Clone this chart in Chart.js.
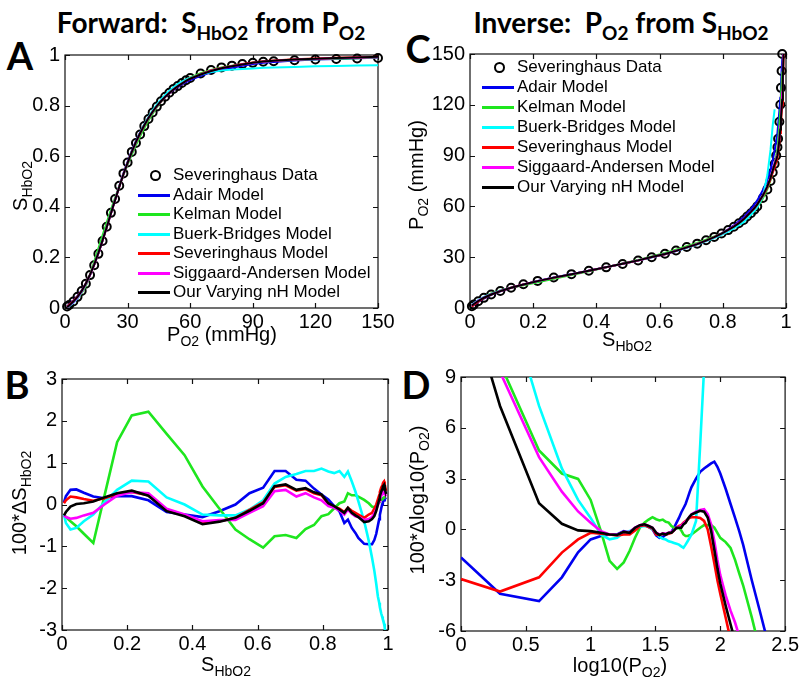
<!DOCTYPE html>
<html>
<head>
<script src="https://cdn.jsdelivr.net/npm/chart.js@4"></script>
<style>
    body { margin: 0; width: 800px; height: 686px; overflow: hidden; background: #fff; position: relative;
           font-family: "Liberation Sans", Arial, sans-serif; color: #000; }
    canvas { position: absolute; }
    .ttl { position: absolute; font-family: Lato, sans-serif; font-weight: bold; font-size: 28px; white-space: nowrap; transform: translate(-50%, -50%); }
    .ttl sub { font-size: 19px; line-height: 0; }
    .let { position: absolute; font-family: Lato, sans-serif; font-weight: bold; font-size: 38px; transform: translate(-50%, -50%); line-height: 1; }
    .ax { position: absolute; font-size: 20px; white-space: nowrap; line-height: 1; }
    .ax sub { font-size: 14px; line-height: 0; }
    .hor { transform: translate(-50%, -50%); }
    .rot { transform: translate(-50%, -50%) rotate(-90deg); }
    .row { position: absolute; height: 20px; line-height: 20px; font-size: 17px; white-space: nowrap; }
    .sw { position: absolute; height: 3px; width: 32px; }
    .dot { position: absolute; width: 7px; height: 7px; border: 2px solid #000; border-radius: 50%; }
</style>
</head>
<body>
<div class="ttl" style="left:211px; top:22px;">Forward:&nbsp; S<sub>HbO2</sub> from P<sub>O2</sub></div>
<div class="ttl" style="left:621px; top:22px;">Inverse:&nbsp; P<sub>O2</sub> from S<sub>HbO2</sub></div>
<div class="let" style="left:20px; top:55px;">A</div>
<div class="let" style="left:17px; top:384px;">B</div>
<div class="let" style="left:418px; top:48px;">C</div>
<div class="let" style="left:416px; top:384px;">D</div>

<canvas id="chartA" width="393" height="300" style="left:5px; top:38px;"></canvas>
<canvas id="chartB" width="406" height="298" style="left:2px; top:362px;"></canvas>
<canvas id="chartC" width="390" height="301" style="left:410px; top:37px;"></canvas>
<canvas id="chartD" width="400" height="301" style="left:401px; top:360px;"></canvas>

<div class="ax hor" style="left:222px; top:334px;">P<sub>O2</sub> (mmHg)</div>
<div class="ax rot" style="left:20px; top:186px;">S<sub>HbO2</sub></div>
<div class="ax hor" style="left:226px; top:664px;">S<sub>HbO2</sub></div>
<div class="ax rot" style="left:19px; top:503px;">100*ΔS<sub>HbO2</sub></div>
<div class="ax hor" style="left:627px; top:339px;">S<sub>HbO2</sub></div>
<div class="ax rot" style="left:416px; top:175px;">P<sub>O2</sub> (mmHg)</div>
<div class="ax hor" style="left:620px; top:665px;">log10(P<sub>O2</sub>)</div>
<div class="ax rot" style="left:417px; top:500px;">100*Δlog10(P<sub>O2</sub>)</div>

<div id="legA"></div>
<div id="legC"></div>

<script>
// Severinghaus data points
const pO2 = [1, 2, 4, 6, 8, 10, 12, 14, 16, 18, 20, 22, 24, 26, 28, 30, 32, 34, 36, 38, 40, 42, 44, 46, 48, 50,
             52, 54, 56, 58, 60, 65, 70, 75, 80, 85, 90, 95, 100, 110, 120, 130, 140, 150, 175, 200, 250];
const sHbO2 = [0.006, 0.012, 0.026, 0.044, 0.067, 0.096, 0.130, 0.169, 0.214, 0.265, 0.321, 0.376, 0.431, 0.483,
               0.532, 0.575, 0.617, 0.652, 0.686, 0.719, 0.747, 0.773, 0.796, 0.817, 0.835, 0.851, 0.866, 0.877,
               0.889, 0.900, 0.909, 0.927, 0.941, 0.951, 0.958, 0.964, 0.969, 0.973, 0.975, 0.979, 0.982, 0.984,
               0.986, 0.988, 0.990, 0.992, 0.994];

// panel B: 100*(S model - S data) at each data point
const dSAdair = [0.05, 0.2, 0.35, 0.36, 0.28, 0.19, 0.15, 0.2, 0.2, 0.1, -0.18, -0.24, -0.3, -0.16, 0.0, 0.27, 0.4, 0.8,
                 0.8, 0.59, 0.57, 0.38, 0.24, 0.12, -0.04, -0.16, -0.44, -0.36, -0.56, -0.68, -0.8, -0.94, -0.95,
                 -0.95, -0.85, -0.7, -0.5, -0.35, -0.25, -0.1, 0.0, 0.05, 0.08, 0.1, 0.12, 0.15, 0.17];
const dSKelman = [-0.24, -0.3, -0.4, -0.52, -0.7, -0.92, 0.2, 1.49, 2.13, 2.22, 1.69, 1.18, 0.43, -0.1, -0.6, -0.83,
                  -1.03, -0.76, -0.73, -0.8, -0.59, -0.49, -0.28, -0.23, -0.09, 0.03, 0.07, 0.27, 0.22, 0.22, 0.19,
                  0.11, 0.03, -0.05, -0.07, -0.03, 0.02, 0.06, 0.08, 0.11, 0.13, 0.15, 0.16, 0.17, 0.17, 0.17, 0.17];
const dSBuerk = [-0.24, -0.44, -0.6, -0.56, -0.4, -0.24, 0.05, 0.35, 0.57, 0.55, 0.17, 0.0, -0.24, -0.26, -0.26, -0.12,
                 0.1, 0.5, 0.66, 0.73, 0.8, 0.8, 0.86, 0.79, 0.75, 0.8, 0.66, 0.79, 0.55, 0.31, 0.08, -0.4, -0.87,
                 -1.27, -1.58, -1.9, -2.2, -2.35, -2.45, -2.6, -2.68, -2.74, -2.78, -2.85, -2.95, -3.05, -3.15];
const dSSev = [0.03, 0.1, 0.19, 0.17, 0.13, 0.09, 0.15, 0.25, 0.3, 0.22, -0.13, -0.26, -0.44, -0.4, -0.32, -0.13, 0.05,
               0.42, 0.46, 0.33, 0.37, 0.27, 0.22, 0.02, -0.05, -0.1, -0.18, -0.08, -0.15, -0.2, -0.24, -0.32, -0.24,
               -0.2, -0.1, 0.0, 0.12, 0.22, 0.3, 0.4, 0.45, 0.5, 0.53, 0.55, 0.48, 0.4, 0.32];
const dSSigg = [-0.26, -0.3, -0.34, -0.32, -0.26, -0.2, 0.0, 0.21, 0.3, 0.27, -0.1, -0.24, -0.4, -0.37, -0.37, -0.2,
                -0.04, 0.32, 0.35, 0.19, 0.27, 0.17, 0.1, -0.04, -0.08, -0.14, -0.24, -0.12, -0.22, -0.28, -0.3, -0.37,
                -0.35, -0.3, -0.22, -0.12, -0.02, 0.08, 0.13, 0.2, 0.25, 0.28, 0.3, 0.3, 0.27, 0.23, 0.2];
const dSOurs = [-0.26, -0.18, -0.05, 0.01, 0.03, 0.07, 0.17, 0.27, 0.33, 0.21, -0.16, -0.28, -0.47, -0.41, -0.32, -0.15,
                0.03, 0.44, 0.48, 0.35, 0.39, 0.29, 0.24, 0.03, -0.04, -0.12, -0.2, -0.08, -0.2, -0.26, -0.3, -0.42,
                -0.4, -0.35, -0.28, -0.15, 0.0, 0.12, 0.2, 0.3, 0.36, 0.42, 0.45, 0.47, 0.4, 0.32, 0.25];

// panel D: 100*(log10 P model - log10 P data) at each data point
const dLogAdair = [-1.66, -3.8, -4.23, -2.83, -1.35, -0.59, -0.39, -0.3, -0.3, -0.1, -0.2, 0.05, 0.2, 0.25, 0.15, 0.0,
                   -0.35, -0.5, -0.45, -0.3, -0.25, -0.15, 0.1, 0.4, 0.68, 1.0, 1.25, 1.5, 1.85, 2.2, 2.5, 3.0, 3.4,
                   3.6, 3.75, 3.9, 4.0, 3.7, 3.3, 2.4, 1.5, 0.68, -0.1, -0.9, -3.0, -4.7, -7.6];
const dLogKelman = [25, 9.8, 4.66, 3.3, 2.98, 1.74, -0.1, -1.86, -2.33, -1.95, -1.26, -0.49, 0.1, 0.39, 0.58, 0.72,
                    0.6, 0.53, 0.58, 0.45, 0.4, 0.2, 0.1, 0.05, 0.1, -0.06, -0.3, -0.39, -0.39, -0.35, -0.3, -0.1, 0.1,
                    0.25, 0.25, 0.25, 0.1, -0.2, -0.5, -0.75, -1.1, -1.8, -2.6, -3.3, -5.2, -7, -10];
const dLogBuerk = [30, 15, 7.29, 3.6, 1.74, 0.68, -0.3, -0.59, -0.5, -0.2, -0.1, 0.05, 0.15, 0.2, 0.15, 0.0, -0.2,
                   -0.45, -0.55, -0.6, -0.7, -0.75, -0.8, -0.85, -0.9, -1.0, -1.08, -0.9, -0.7, -0.5, -0.3, 0.5, 5.0,
                   9.5, 13, 14, null, null, null, null, null, null, null, null, null, null, null];
const dLogSev = [-2.93, -3.67, -2.83, -1.37, -0.59, -0.2, -0.25, -0.3, -0.35, -0.3, -0.3, -0.06, 0.2, 0.25, 0.14, 0.05,
                 -0.3, -0.33, -0.25, -0.3, -0.25, -0.2, -0.06, 0.1, 0.2, 0.25, 0.39, 0.49, 0.58, 0.68, 0.72, 0.72,
                 0.68, 0.5, 0.0, -1.0, -2.0, -3.0, -3.8, -5.2, -6.5, -7.6, -8.7, -9.8, -12, -14, -17];
const dLogSigg = [20, 9.3, 4.27, 2.23, 1.06, 0.39, -0.1, -0.3, -0.33, -0.14, -0.15, 0.1, 0.25, 0.3, 0.2, 0.1, -0.2,
                  -0.3, -0.25, -0.25, -0.2, -0.15, -0.05, 0.1, 0.15, 0.2, 0.35, 0.45, 0.6, 0.75, 0.9, 1.05, 1.15, 1.2,
                  0.9, 0.3, -0.7, -1.8, -2.7, -3.9, -4.8, -5.5, -6.3, -7.1, -9, -10.5, -13];
const dLogOurs = [15, 7.29, 1.55, 0.33, -0.06, -0.1, -0.2, -0.3, -0.33, -0.15, -0.2, 0.1, 0.25, 0.3, 0.2, 0.1, -0.2,
                  -0.33, -0.25, -0.3, -0.2, -0.2, -0.06, 0.1, 0.1, 0.1, 0.3, 0.39, 0.6, 0.75, 0.88, 1.0, 1.1, 1.05,
                  0.7, -0.1, -1.2, -2.3, -3.2, -4.5, -5.6, -6.6, -7.6, -8.6, -11, -13, -16];

const modelNames = ['Adair Model', 'Kelman Model', 'Buerk-Bridges Model', 'Severinghaus Model',
                    'Siggaard-Andersen Model', 'Our Varying nH Model'];
const modelColors = ['#0000f0', '#1ee61e', '#00ffff', '#ff0000', '#ff00ff', '#000000'];
const dSModels = [dSAdair, dSKelman, dSBuerk, dSSev, dSSigg, dSOurs];
const dLogModels = [dLogAdair, dLogKelman, dLogBuerk, dLogSev, dLogSigg, dLogOurs];

// tick labels
const ticksPO2 = [0, 30, 60, 90, 120, 150];
const ticksS = [0, 0.2, 0.4, 0.6, 0.8, 1];
const ticksDS = [-3, -2, -1, 0, 1, 2, 3];
const ticksLogP = [0, 0.5, 1, 1.5, 2, 2.5];
const ticksDLog = [-6, -3, 0, 3, 6, 9];

const FONT = { family: '"Liberation Sans", Arial, sans-serif', size: 20 };

// box with inward tick marks, like matlab axes
const boxPlugin = {
    id: 'box',
    beforeDatasetsDraw(chart) {
        const { ctx, chartArea: a, scales: { x, y } } = chart;
        ctx.save();
        ctx.strokeStyle = '#111';
        ctx.lineWidth = 1.2;
        ctx.strokeRect(a.left, a.top, a.right - a.left, a.bottom - a.top);
        ctx.beginPath();
        x.ticks.forEach(t => {
            const px = Math.round(x.getPixelForValue(t.value)) + 0.5;
            ctx.moveTo(px, a.bottom); ctx.lineTo(px, a.bottom - 5);
            ctx.moveTo(px, a.top); ctx.lineTo(px, a.top + 5);
        });
        y.ticks.forEach(t => {
            const py = Math.round(y.getPixelForValue(t.value)) + 0.5;
            ctx.moveTo(a.left, py); ctx.lineTo(a.left + 5, py);
            ctx.moveTo(a.right, py); ctx.lineTo(a.right - 5, py);
        });
        ctx.stroke();
        ctx.restore();
    }
};

function axis(min, max, vals, isX) {
    return {
        type: 'linear', min: min, max: max,
        afterBuildTicks: s => { s.ticks = vals.map(v => ({ value: v })); },
        afterFit: s => { if (isX) s.height = 30; else s.width = 60; },
        grid: { display: false, drawTicks: false },
        border: { display: false },
        ticks: { color: '#000', font: FONT, padding: isX ? 2 : 5, maxRotation: 0, autoSkip: false,
                 callback: v => String(v) }
    };
}

function makeChart(id, datasets, xa, ya, padRight) {
    new Chart(document.getElementById(id), {
        type: 'scatter',
        data: { datasets: datasets },
        options: {
            responsive: false, animation: false,
            layout: { padding: { top: 14, right: padRight, left: 0, bottom: 0 } },
            plugins: { legend: { display: false }, tooltip: { enabled: false } },
            scales: { x: xa, y: ya }
        },
        plugins: [boxPlugin]
    });
}

function lineSet(points, color, width) {
    return { data: points, showLine: true, borderColor: color, borderWidth: width, pointRadius: 0,
             tension: 0, fill: false };
}
function dataSet(points) {
    return { data: points, showLine: false, pointRadius: 4, pointBorderWidth: 2,
             pointBorderColor: '#000', pointBackgroundColor: 'rgba(0,0,0,0)', clip: false };
}

const idx = pO2.map((p, i) => i);
const inRange = idx.filter(i => pO2[i] <= 150);

// black model drawn last (on top), data circles underneath
const setsA = [];
const setsC = [];
const setsB = [];
const setsD = [];
for (let m = modelNames.length - 1; m >= 0; m--) {
    const dS = dSModels[m], dL = dLogModels[m];
    setsA.push(lineSet(idx.map(i => ({ x: pO2[i], y: sHbO2[i] + dS[i] / 100 })), modelColors[m], 2));
    setsB.push(lineSet(idx.map(i => ({ x: sHbO2[i], y: dS[i] })), modelColors[m], 2.6));
    const ok = idx.filter(i => dL[i] !== null);
    setsC.push(lineSet(ok.map(i => ({ x: sHbO2[i], y: pO2[i] * Math.pow(10, dL[i] / 100) })), modelColors[m], 2));
    setsD.push(lineSet(ok.map(i => ({ x: Math.log10(pO2[i]), y: dL[i] })), modelColors[m], 2.6));
}
setsA.push(dataSet(inRange.map(i => ({ x: pO2[i], y: sHbO2[i] }))));
setsC.push(dataSet(inRange.map(i => ({ x: sHbO2[i], y: pO2[i] }))));

makeChart('chartA', setsA, axis(0, 150, ticksPO2, true), axis(0, 1, ticksS, false), 20);
makeChart('chartB', setsB, axis(0, 1, ticksS, true), axis(-3, 3, ticksDS, false), 20);
makeChart('chartC', setsC, axis(0, 1, ticksS, true), axis(0, 150, ticksPO2, false), 14);
makeChart('chartD', setsD, axis(0, 2.5, ticksLogP, true), axis(-6, 9, ticksDLog, false), 14);

// legends
function legend(el, x0, y0, step) {
    const names = ['Severinghaus Data'].concat(modelNames);
    let html = '';
    names.forEach((n, i) => {
        const cy = Math.round(y0 + i * step);
        if (i === 0) {
            html += `<div class="dot" style="left:${x0 + 12}px; top:${cy - 5}px;"></div>`;
        } else {
            html += `<div class="sw" style="left:${x0}px; top:${cy - 1}px; background:${modelColors[i - 1]};"></div>`;
        }
        html += `<div class="row" style="left:${x0 + 35}px; top:${cy - 10}px;">${n}</div>`;
    });
    document.getElementById(el).innerHTML = html;
}
legend('legA', 138, 175, 19.5);
legend('legC', 482, 67, 20);
</script>
</body>
</html>
